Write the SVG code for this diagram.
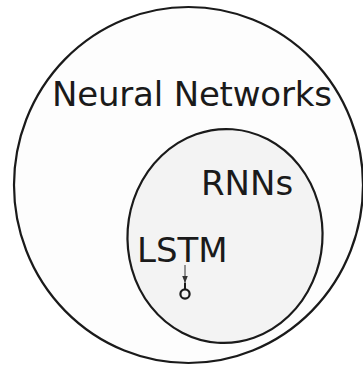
<svg xmlns="http://www.w3.org/2000/svg" width="363" height="368" viewBox="0 0 363 368">
<defs>
<style>
.set{stroke:#1a1a1a;stroke-width:2.2}
.lbl{font-family:"DejaVu Sans",sans-serif;font-size:34px;fill:#1a1a1a}
</style>
<marker id="ah" viewBox="0 0 10 10" refX="10" refY="5" markerWidth="7" markerHeight="7" orient="auto">
<path d="M0,1 L10,5 L0,9 z" fill="#333"/>
</marker>
</defs>
<rect width="363" height="368" fill="#ffffff"/>
<g id="neural-networks">
<ellipse class="set" cx="188.5" cy="185" rx="174.5" ry="178" fill="#fdfdfd"/>
<text class="lbl" x="52" y="106" textLength="280">Neural Networks</text>
</g>
<g id="rnns">
<ellipse class="set" cx="225" cy="236" rx="97.5" ry="107" fill="#f3f3f3" transform="rotate(4 225 236)"/>
<text class="lbl" x="201" y="195">RNNs</text>
</g>
<g id="lstm">
<text class="lbl" x="137" y="262">LSTM</text>
<circle cx="185" cy="294" r="4.6" fill="none" stroke="#1a1a1a" stroke-width="2.2"/>
</g>
<g id="connectors">
<line x1="185" y1="265" x2="185" y2="283" stroke="#333" stroke-width="1" marker-end="url(#ah)"/>
<line x1="185" y1="283" x2="185" y2="289.5" stroke="#1a1a1a" stroke-width="2"/>
</g>
</svg>
